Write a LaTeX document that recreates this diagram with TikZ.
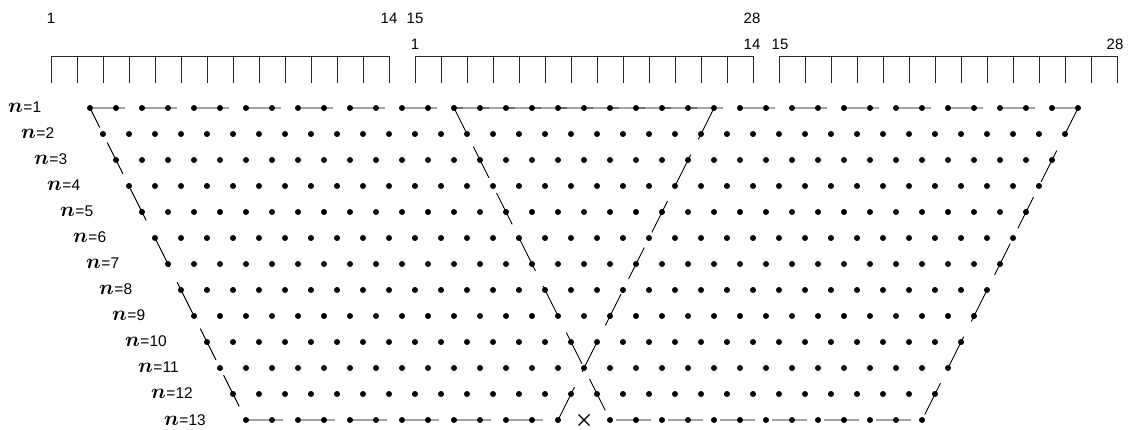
\documentclass[tikz,border=0pt]{standalone}
\usepackage{fontspec}
\setmainfont{Liberation Sans}
\begin{document}
\begin{tikzpicture}[x=1pt,y=-1pt,
  rulerline/.style={black!85, line width=0.9pt},
  numlab/.style={font=\fontsize{15}{18}\selectfont, inner sep=0pt, anchor=center},
  rowlab/.style={font=\fontsize{15.5}{18}\selectfont, inner sep=0pt, anchor=base west},
  trap/.style={black, line width=0.9pt, dash pattern=on 35pt off 17pt},
  crossmark/.style={black, line width=1.1pt},
]
\useasboundingbox (0,0) rectangle (1128,430);

% rulers
\foreach \g in {0,1,2} {
  \pgfmathsetmacro\xs{51+364*\g}
  \pgfmathsetmacro\xe{\xs+338}
  \draw[rulerline] (\xs,83) -- (\xs,56) -- (\xe,56) -- (\xe,83);
  \foreach \k in {1,...,12} {
    \draw[rulerline] ({\xs+26*\k},56) -- ({\xs+26*\k},83);
  }
}

% ruler numbers
\node[numlab] (t1)  at (51,18)   {1};
\node[numlab] (t14) at (389,18)  {14};
\node[numlab] (t15) at (415,18)  {15};
\node[numlab] (t28) at (752,18)  {28};
\node[numlab] (s1)  at (415,44)  {1};
\node[numlab] (s14) at (752,44)  {14};
\node[numlab] (s15) at (780,44)  {15};
\node[numlab] (s28) at (1115,44) {28};

% dot coordinates
\foreach \n in {1,...,13} {
  \pgfmathtruncatemacro\last{39-\n}
  \foreach \k in {0,...,\last} {
    \coordinate (d-\n-\k) at ({90+13*(\n-1)+26*\k}, {108+26*(\n-1)});
  }
}

% row labels
\foreach \n in {1,...,13} {
  \node[rowlab] (lab-\n) at ({8+13*(\n-1)}, {113+26*(\n-1)})
    {{\fontsize{21}{21}\selectfont\boldmath$n$}\kern0.5pt=\n};
}

% trapezoids
\draw[trap] (d-1-0) -- (d-1-24) -- (d-13-12) -- (d-13-0) -- cycle;
\draw[trap, dash phase=4.4pt] (d-1-38) -- (d-13-26) -- (d-13-14) -- (d-1-14) -- cycle;

% dots
\foreach \n in {1,...,13} {
  \pgfmathtruncatemacro\last{39-\n}
  \foreach \k in {0,...,\last} {
    \ifnum\n=13 \ifnum\k=13 \else \fill (d-\n-\k) circle (3); \fi
    \else \fill (d-\n-\k) circle (3); \fi
  }
}

% cross mark
\coordinate (xa) at ([shift={(-5.5,-5.5)}]d-13-13);
\coordinate (xb) at ([shift={(5.5,5.5)}]d-13-13);
\coordinate (xc) at ([shift={(-5.5,5.5)}]d-13-13);
\coordinate (xd) at ([shift={(5.5,-5.5)}]d-13-13);
\draw[crossmark] (xa) -- (xb);
\draw[crossmark] (xc) -- (xd);
\fill (d-13-13) circle (1.5);
\end{tikzpicture}
\end{document}
